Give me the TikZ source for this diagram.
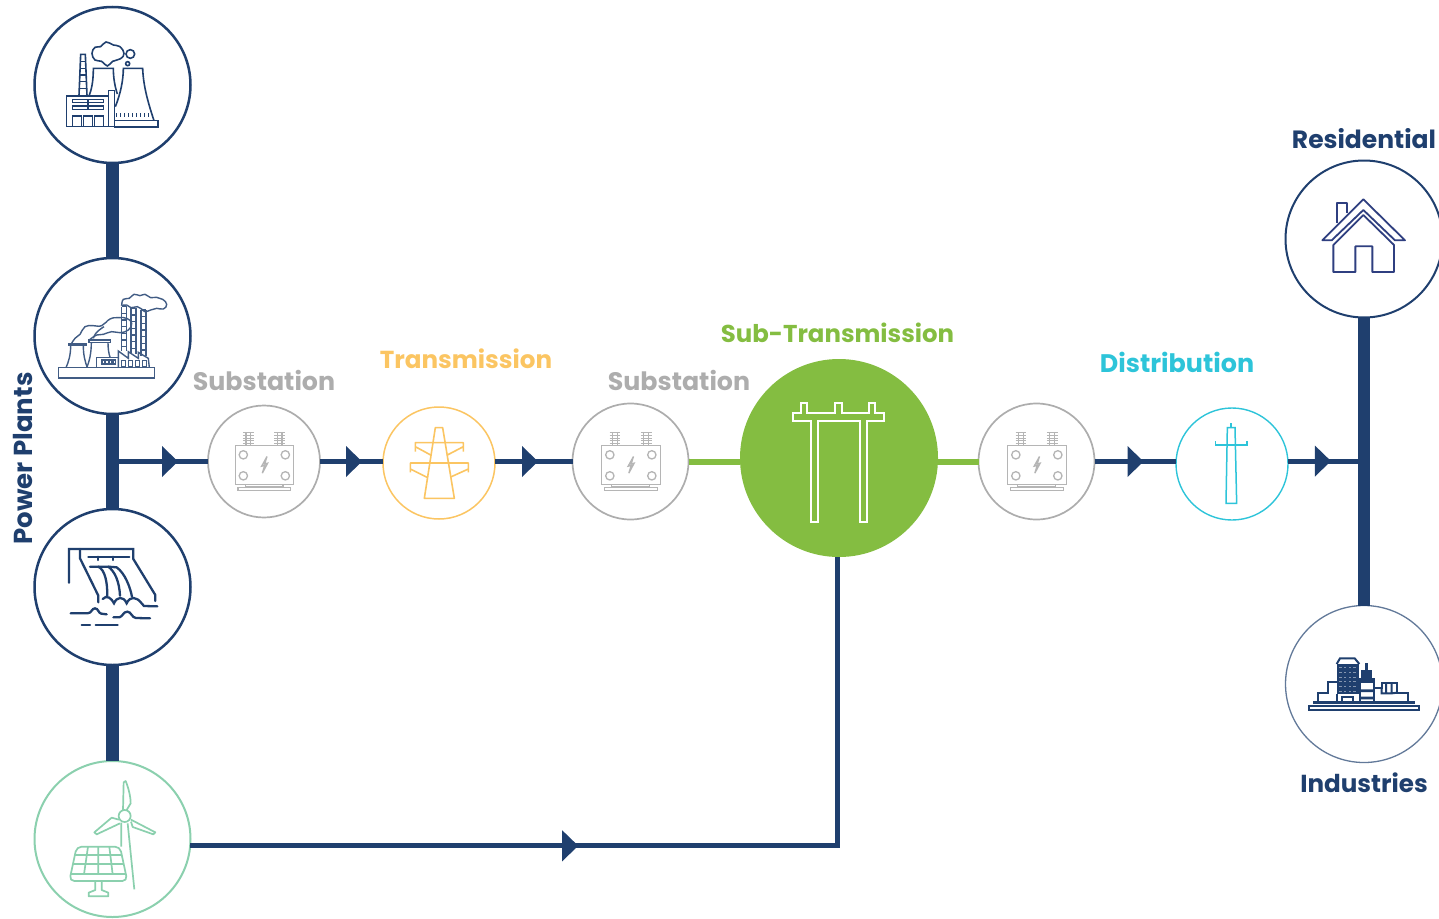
\documentclass[tikz,border=0pt]{standalone}
\usepackage{fontspec}
\setmainfont{Poppins}
\usetikzlibrary{decorations.markings,calc}
\definecolor{navy}{HTML}{1F3F6E}
\definecolor{leaf}{HTML}{84BD41}
\definecolor{gold}{HTML}{FBC562}
\definecolor{mint}{HTML}{8BD0AE}
\definecolor{cyanish}{HTML}{2DC4D9}
\definecolor{greyish}{HTML}{ADADAD}
\definecolor{housec}{HTML}{2F3F80}
\tikzset{
  ring/.style={circle,draw=#1,fill=white,inner sep=0pt,outer sep=0pt},
  plant/.style={ring=navy,minimum size=156pt,line width=2.5pt},
  lbl/.style={font=\bfseries\fontsize{#1}{26}\selectfont,inner sep=0pt},
  bar/.style={draw=navy,line width=13pt},
  wire/.style={draw=navy,line width=5pt},
  gwire/.style={draw=leaf,line width=6pt},
  arrowat/.style={postaction={decorate,decoration={markings,mark=at position #1 with {\fill[navy] (-8,-15.5) -- (8,0) -- (-8,15.5) -- cycle;}}}},
  zoomed/.style 2 args={shift={(#1,#2)},x=0.33333pt,y=-0.33333pt},
  transformer/.pic={
    \begin{scope}[shift={(-63.67,-66.67)},x=0.33333pt,y=-0.33333pt,draw=greyish!90,line width=1.3pt]
      \draw (105,153) rectangle (280,268);
      \foreach \a/\b in {129/180,255/180,129/243,255/243} \draw (\a,\b) circle (12.5);
      \draw (200,185) -- (184,214) -- (193,212) -- (186,235) -- (202,205) -- (193,207) -- cycle;
      \foreach \cx in {144,238} {
        \foreach \yy in {114,122,130,138,146} \draw (\cx-16,\yy) -- (\cx+16,\yy);
        \draw (\cx-7,112) -- (\cx-7,153) (\cx+7,112) -- (\cx+7,153);
      }
      \draw (135,268) -- (135,275) -- (248,275) -- (248,268);
      \draw (113,277) rectangle (271,287);
    \end{scope}
  }
}
\begin{document}
\begin{tikzpicture}[x=1pt,y=-1pt]
\useasboundingbox (0,0) rectangle (1439,918);
% circles
\node[plant] (P1) at (112.5,85) {};
\node[plant] (P2) at (112.5,336) {};
\node[plant] (P3) at (112.5,587) {};
\node[ring=mint,minimum size=156pt,line width=2pt] (P4) at (112.5,839) {};
\node[ring=greyish,minimum size=112pt,line width=1.7pt] (S1) at (264,461.5) {};
\node[ring=gold,minimum size=112pt,line width=1.5pt] (T1) at (439,463) {};
\node[ring=greyish,minimum size=116pt,line width=1.7pt] (S2) at (630.5,461.5) {};
\node[circle,fill=leaf,inner sep=0pt,minimum size=198pt] (BIG) at (839,458) {};
\node[ring=greyish,minimum size=116pt,line width=1.7pt] (S3) at (1036.5,461.5) {};
\node[ring=cyanish,minimum size=112pt,line width=1.4pt] (D1) at (1232,464) {};
\node[ring=navy,minimum size=157pt,line width=2pt] (RES) at (1364,239) {};
\node[ring=navy!70,minimum size=157pt,line width=1.3pt] (IND) at (1364,684) {};
\coordinate (J1) at (112.5,461.5);
% connectors
\draw[bar] (P1) -- (P2);
\draw[bar] (P2) -- (P3);
\draw[bar] (P3) -- (P4);
\draw[bar,line width=12pt] (RES) -- (IND);
\draw[wire,arrowat=57.5pt] (J1) -- (J1 -| S1.west);
\draw[wire,arrowat=34pt] (S1.east) -- (S1.east -| T1.west);
\draw[wire,arrowat=35pt] (S2.west -| T1.east) -- (S2.west);
\draw[gwire] (S2.east) -- (S2.east -| BIG.west);
\draw[gwire] (S3.west -| BIG.east) -- (S3.west);
\draw[wire,arrowat=41pt] (S3.east) -- (S3.east -| D1.west);
\draw[wire,arrowat=35pt] (D1.3) -- (D1.3 -| RES.south);
\draw[wire,arrowat=380pt] (P4.-5) -| (BIG.-91);
% labels
\node[lbl=25.3,text=greyish] (L1) at (264,380) {Substation};
\node[lbl=24.6,text=gold] (L2) at (466,359) {Transmission};
\node[lbl=25.3,text=greyish] (L3) at (679,380) {Substation};
\node[lbl=24.4,text=leaf] (L4) at (837.5,333) {Sub-Transmission};
\node[lbl=25.4,text=cyanish] (L5) at (1177,362) {Distribution};
\node[lbl=25,text=navy] (L6) at (1364,139) {Residential};
\node[lbl=24.6,text=navy] (L7) at (1364,783) {Industries};
\node[lbl=26,text=navy,rotate=90] (L8) at (23,458.5) {Power Plants};
% transformers
\pic at (S1) {transformer};
\pic at (S2) {transformer};
\pic at (S3) {transformer};
% P1 icon
\begin{scope}[zoomed={30}{0},draw=navy,line width=1.6pt]
  \draw (110,288) rectangle (235,380);
  \draw (127,298) rectangle (221,308) (127,318) rectangle (221,328) (174,298) -- (174,328);
  \draw (127,348) rectangle (154,380) (160,348) rectangle (187,380) (193,348) rectangle (220,380);
  \draw (235,272) rectangle (253,380);
  \draw (253,362) rectangle (384,381);
  \draw (147,287) -- (152,163) -- (166,163) -- (171,287);
  \foreach \yy in {185,205,225,245,265} \draw (150,\yy) -- (168,\yy);
  \draw (178,285) .. controls (188,260) and (190,230) .. (190,205) -- (250,205) .. controls (250,235) and (255,260) .. (262,282);
  \draw (256,320) .. controls (272,280) and (280,240) .. (280,205) -- (338,205) .. controls (340,260) and (355,310) .. (372,362);
  \foreach \xx in {258,270,...,354} \draw[line width=1pt] (\xx,340) -- (\xx,352);
  \draw plot[smooth cycle,tension=.7] coordinates {(186,160) (195,142) (212,140) (228,126) (250,135) (270,140) (282,160) (272,176) (248,184) (232,198) (215,184) (195,180)};
  \draw (301,162) circle (13) (293,191) circle (6);
\end{scope}
% P2 icon
\begin{scope}[zoomed={30}{255},draw=navy!85,line width=1.4pt]
  \draw (86,338) rectangle (373,369);
  \draw (115,267) rectangle (168,272);
  \draw (122,272) .. controls (122,300) and (116,320) .. (108,338);
  \draw (160,272) .. controls (160,300) and (165,320) .. (172,338);
  \draw (177,255) rectangle (241,262);
  \draw (184,262) .. controls (184,295) and (178,320) .. (170,338);
  \draw (234,262) .. controls (234,280) and (236,295) .. (240,306);
  \draw (200,308) rectangle (265,338);
  \foreach \xx in {216,227,238,249} \draw (\xx,315) rectangle (\xx+8,327);
  \draw (265,338) -- (265,288) -- (295,310) -- (295,290) -- (325,310) -- (325,292) -- (355,310) -- (358,338);
  \foreach \xx in {274,295,316,337} \draw (\xx,317) rectangle (\xx+13,335);
  \foreach \xa/\ya/\yb in {275/155/288,303/160/297,333/165/303} {
    \draw (\xa,\ya) -- (\xa,\yb) (\xa+15,\ya) -- (\xa+15,\yb);
    \foreach \yy in {0,20,...,120} \draw ({\xa},{\ya+\yy}) -- ({\xa+15},{\ya+\yy});
  }
  \draw plot[smooth,tension=.8] coordinates {(275,152) (280,133) (298,130) (312,118) (330,122) (345,118) (362,128) (380,127) (398,133) (410,148) (400,162) (380,160) (362,165) (345,170) (335,162) (322,155) (303,158) (290,150) (275,152)};
  \draw plot[smooth,tension=.8] coordinates {(125,265) (135,250) (150,238) (165,215) (190,212) (215,212) (240,192) (265,188) (290,190) (305,205) (295,225) (270,233) (245,230) (220,238) (200,240) (178,255)};
  \draw plot[smooth,tension=.8] coordinates {(190,250) (200,232) (222,215)};
\end{scope}
% P3 icon
\begin{scope}[zoomed={30}{505},draw=navy,line width=2.3pt,line cap=round]
  \draw (117,233) -- (117,132) -- (310,132) -- (310,162) -- (376,270) -- (376,288);
  \draw (150,132) -- (150,160) -- (205,272) -- (205,292);
  \draw (175,155) -- (298,155) (203,155) -- (203,165) (250,155) -- (250,165);
  \draw (180,185) -- (205,185) .. controls (225,195) and (232,230) .. (232,272);
  \draw (205,185) -- (235,185) .. controls (255,200) and (268,230) .. (270,272);
  \draw (235,185) -- (260,187) .. controls (285,205) and (300,245) .. (306,275);
  \draw (218,282) .. controls (230,268) and (245,280) .. (252,295) .. controls (260,275) and (280,272) .. (290,295) .. controls (300,272) and (320,275) .. (335,295) -- (342,303) -- (382,304);
  \draw (122,325) -- (172,325) .. controls (185,325) and (185,310) .. (195,310) .. controls (205,310) and (205,325) .. (214,326) -- (230,328);
  \draw (250,337) -- (268,337) .. controls (278,335) and (280,320) .. (292,320) .. controls (304,320) and (305,338) .. (318,339) -- (360,340);
  \draw (155,361) -- (180,361) (197,361) -- (263,361);
\end{scope}
% P4 icon
\begin{scope}[zoomed={30}{755},draw=mint,line width=1.7pt,line join=round]
  \draw (284,183) circle (18);
  \draw (279,165) -- (281,82) -- (287,78) .. controls (298,105) and (302,130) .. (302,145) -- (290,165);
  \draw (267,194) -- (245,188) -- (193,232) -- (200,238) -- (270,205);
  \draw (303,194) -- (376,232) -- (370,238) -- (308,216) -- (303,200);
  \draw (274,203) -- (274,275) (293,205) -- (313,403);
  \draw[rounded corners=5pt] (140,275) -- (270,275) -- (292,378) -- (118,378) -- cycle;
  \draw (124,358) -- (288,358) (130,327) -- (282,327) (136,300) -- (276,300);
  \draw (174,275) -- (162,358) (205,275) -- (205,358) (238,275) -- (248,358);
  \draw (196,378) -- (196,405) -- (176,413) -- (176,424) -- (235,424) -- (235,413) -- (215,405) -- (215,378);
\end{scope}
% tower icon
\begin{scope}[zoomed={200}{395},draw=gold,line width=1.6pt,line join=round]
  \draw (706,98) -- (673,310) -- (763,310) -- (728,98) -- cycle;
  \draw (646,170) -- (646,143) -- (790,143) -- (790,170) (646,155) -- (692,180) (790,155) -- (742,180);
  \draw (631,232) -- (631,204) -- (805,204) -- (805,232) (631,222) -- (683,248) (805,222) -- (752,246);
\end{scope}
% pole icon
\begin{scope}[zoomed={780}{390},draw=white,line width=1.9pt]
  \draw (40,93) -- (92,93) -- (92,397) -- (113,397) -- (113,93) -- (240,93) -- (240,397) -- (260,397) -- (260,93) -- (312,93) -- (312,70) -- (286,70) -- (286,40) -- (268,40) -- (268,70) -- (185,70) -- (185,40) -- (166,40) -- (166,70) -- (82,70) -- (82,40) -- (64,40) -- (64,70) -- (40,70) -- cycle;
\end{scope}
% distribution icon
\begin{scope}[zoomed={1170}{400},draw=cyanish,line width=1.5pt]
  \draw (172,83) -- (195,83) -- (200,310) -- (168,310) -- cycle;
  \draw (183,70) -- (183,83);
  \draw (137,123) -- (137,135) -- (231,135) -- (231,123);
\end{scope}
% house icon
\begin{scope}[zoomed={1280}{160},draw=housec,line width=1.8pt,line join=round]
  \draw (127,241) -- (250,118) -- (375,241) -- (345,241) -- (250,150) -- (155,241) -- cycle;
  \draw (160,255) -- (250,165) -- (342,255) -- (342,336) -- (277,336) -- (277,259) -- (226,259) -- (226,336) -- (160,336) -- cycle;
  \draw (172,188) -- (172,128) -- (201,128) -- (201,158);
\end{scope}
% industry icon
\begin{scope}[zoomed={1280}{640},draw=navy,line width=2pt]
  \draw (87,199) rectangle (416,210);
  \fill[navy] (100,182) rectangle (405,192);
  \draw (113,182) -- (113,160) -- (145,160) -- (145,125) -- (170,125);
  \fill[navy] (170,72) rectangle (238,163);
  \draw (170,72) -- (180,55) -- (224,55) -- (238,72);
  \foreach \xx in {178,192,206,220} \foreach \yy in {82,96,110,124,138,152} \fill[navy!55!white] (\xx,\yy) rectangle (\xx+7,\yy+3);
  \draw (170,163) -- (170,182) (187,182) -- (187,170) -- (220,170) -- (220,182);
  \fill[navy] (255,68) rectangle (265,90);
  \fill[navy] (243,90) rectangle (276,115);
  \fill[navy] (238,115) rectangle (285,130);
  \draw (240,130) -- (240,182) (283,130) -- (283,182);
  \fill[navy] (240,148) rectangle (283,156) (240,170) rectangle (283,178);
  \draw (283,145) -- (305,145) -- (305,130) -- (352,130) -- (352,158) -- (385,158) -- (385,182);
  \draw (318,130) -- (318,160) -- (305,160) -- (305,145) (335,130) -- (335,160) -- (318,160) (352,158) -- (335,160);
\end{scope}
\end{tikzpicture}
\end{document}
